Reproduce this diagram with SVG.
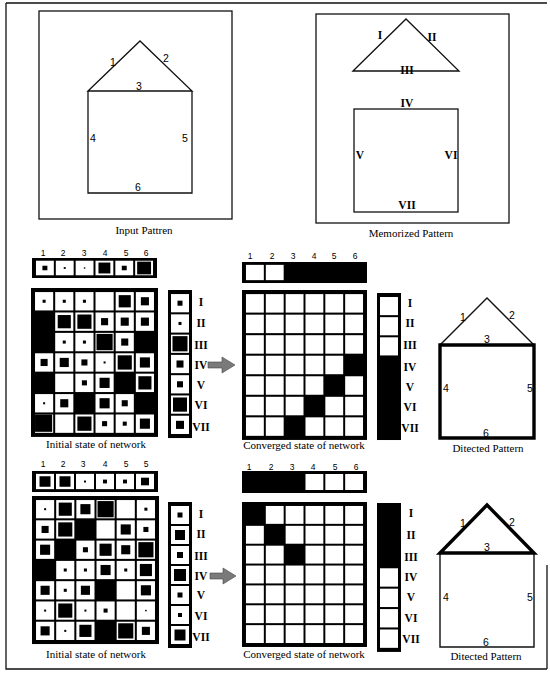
<svg xmlns="http://www.w3.org/2000/svg" xmlns:xlink="http://www.w3.org/1999/xlink" width="550" height="673" viewBox="0 0 550 673">
<style>
.ln{fill:none;stroke:#111;stroke-width:1.3}
.thick{fill:none;stroke:#000;stroke-width:3.4;stroke-linejoin:miter;stroke-linecap:square}
.thin{fill:none;stroke:#111;stroke-width:1.4}
.bk{fill:#000}
.sans{font-family:"Liberation Sans",Arial,sans-serif;font-size:10.5px;fill:#000;text-anchor:middle}
.num{font-family:"Liberation Sans",Arial,sans-serif;font-size:8.5px;fill:#000;text-anchor:middle}
.ser{font-family:"Liberation Serif","Times New Roman",serif;font-size:11.5px;fill:#000;text-anchor:middle;font-weight:bold}
.cap{font-family:"Liberation Serif","Times New Roman",serif;font-size:11px;fill:#000;text-anchor:middle}
.arrow{fill:#7a7a7a;stroke:#444;stroke-width:0.6}
</style>
<defs>
<rect id="cw" width="18" height="18" fill="#fff"/>
<rect id="sw" width="18" height="16" fill="#fff"/>
</defs>
<rect width="550" height="673" fill="#fff"/>
<g id="frame"><path class="ln" d="M6,3 H547 M6,3 V669 H547 M547,565 V669"/></g>

<g id="input-pattern">
<rect class="ln" x="39" y="11" width="193" height="208"/>
<path class="ln" d="M88,91 L140,41 L192,91 Z M88,91 V193 H192 V91"/>
<text class="sans" x="113" y="66">1</text>
<text class="sans" x="166" y="62">2</text>
<text class="sans" x="139" y="90">3</text>
<text class="sans" x="93" y="142">4</text>
<text class="sans" x="185" y="142">5</text>
<text class="sans" x="138" y="191">6</text>
<text class="cap" x="144" y="234">Input Pattren</text>
</g>

<g id="memorized-pattern">
<rect class="ln" x="316" y="14" width="193" height="209"/>
<path class="ln" d="M353,71 L406,19 L459,71 Z"/>
<rect class="ln" x="354" y="109" width="104" height="103"/>
<text class="ser" x="380" y="39">I</text>
<text class="ser" x="432" y="41">II</text>
<text class="ser" x="407" y="74">III</text>
<text class="ser" x="407" y="107">IV</text>
<text class="ser" x="360" y="159">V</text>
<text class="ser" x="451" y="159">VI</text>
<text class="ser" x="407" y="209">VII</text>
<text class="cap" x="411" y="237">Memorized Pattern</text>
</g>

<!-- ===== middle section ===== -->
<g id="mid-input-strip">
<text class="num" x="43" y="256">1</text><text class="num" x="63" y="256">2</text><text class="num" x="84" y="256">3</text><text class="num" x="105" y="256">4</text><text class="num" x="126" y="256">5</text><text class="num" x="146" y="256">6</text>
<g transform="translate(32,258) scale(0.992,0.909)">
<rect class="bk" width="126" height="22"/>
<use href="#sw" x="4" y="3"/><use href="#sw" x="24" y="3"/><use href="#sw" x="44" y="3"/><use href="#sw" x="64" y="3"/><use href="#sw" x="84" y="3"/><use href="#sw" x="104" y="3"/>
<rect class="bk" x="10.5" y="8.5" width="5" height="5"/>
<rect class="bk" x="32" y="10" width="2" height="2"/>
<rect class="bk" x="52.25" y="10.25" width="1.5" height="1.5"/>
<rect class="bk" x="67" y="5" width="12" height="12"/>
<rect class="bk" x="90.5" y="8.5" width="5" height="5"/>
<rect class="bk" x="106" y="4" width="14" height="14"/>
</g>
</g>

<g id="mid-initial-grid">
<g transform="translate(31,288) scale(1.008,1.02)">
<rect class="bk" width="126" height="146"/>
<use href="#cw" x="4" y="4"/><use href="#cw" x="24" y="4"/><use href="#cw" x="44" y="4"/><use href="#cw" x="64" y="4"/><use href="#cw" x="84" y="4"/><use href="#cw" x="104" y="4"/>
<use href="#cw" x="24" y="24"/><use href="#cw" x="44" y="24"/><use href="#cw" x="64" y="24"/><use href="#cw" x="84" y="24"/><use href="#cw" x="104" y="24"/>
<use href="#cw" x="24" y="44"/><use href="#cw" x="44" y="44"/><use href="#cw" x="64" y="44"/><use href="#cw" x="84" y="44"/>
<use href="#cw" x="4" y="64"/><use href="#cw" x="24" y="64"/><use href="#cw" x="44" y="64"/><use href="#cw" x="64" y="64"/><use href="#cw" x="84" y="64"/><use href="#cw" x="104" y="64"/>
<use href="#cw" x="24" y="84"/><use href="#cw" x="44" y="84"/><use href="#cw" x="64" y="84"/><use href="#cw" x="104" y="84"/>
<use href="#cw" x="4" y="104"/><use href="#cw" x="24" y="104"/><use href="#cw" x="64" y="104"/><use href="#cw" x="84" y="104"/>
<use href="#cw" x="4" y="124"/><use href="#cw" x="24" y="124"/><use href="#cw" x="44" y="124"/><use href="#cw" x="64" y="124"/><use href="#cw" x="84" y="124"/><use href="#cw" x="104" y="124"/>
<rect class="bk" x="11.5" y="11.5" width="3" height="3"/>
<rect class="bk" x="31.5" y="11.5" width="3" height="3"/>
<rect class="bk" x="51.5" y="11.5" width="3" height="3"/>
<rect class="bk" x="87" y="7" width="12" height="12"/>
<rect class="bk" x="109" y="9" width="8" height="8"/>
<rect class="bk" x="26.5" y="26.5" width="13" height="13"/>
<rect class="bk" x="46" y="26" width="14" height="14"/>
<rect class="bk" x="69.5" y="29.5" width="7" height="7"/>
<rect class="bk" x="89" y="29" width="8" height="8"/>
<rect class="bk" x="109" y="29" width="8" height="8"/>
<rect class="bk" x="31.5" y="51.5" width="3" height="3"/>
<rect class="bk" x="51.5" y="51.5" width="3" height="3"/>
<rect class="bk" x="65" y="45" width="16" height="16"/>
<rect class="bk" x="89.5" y="49.5" width="7" height="7"/>
<rect class="bk" x="9.5" y="69.5" width="7" height="7"/>
<rect class="bk" x="28.5" y="68.5" width="9" height="9"/>
<rect class="bk" x="50" y="70" width="6" height="6"/>
<rect class="bk" x="72" y="72" width="2" height="2"/>
<rect class="bk" x="86" y="66" width="14" height="14"/>
<rect class="bk" x="108" y="68" width="10" height="10"/>
<rect class="bk" x="50.5" y="90.5" width="5" height="5"/>
<rect class="bk" x="68" y="88" width="10" height="10"/>
<rect class="bk" x="106.5" y="86.5" width="13" height="13"/>
<rect class="bk" x="12" y="112" width="2" height="2"/>
<rect class="bk" x="29" y="109" width="8" height="8"/>
<rect class="bk" x="68" y="108" width="10" height="10"/>
<rect class="bk" x="90" y="110" width="6" height="6"/>
<rect class="bk" x="4" y="124" width="17" height="17"/>
<rect class="bk" x="46" y="126" width="14" height="14"/>
<rect class="bk" x="70.5" y="130.5" width="5" height="5"/>
<rect class="bk" x="91" y="131" width="4" height="4"/>
<rect class="bk" x="108" y="128" width="10" height="10"/>
</g>
<text class="cap" x="96" y="448">Initial state of network</text>
</g>

<g id="mid-input-vector">
<g transform="translate(168,290) scale(1,1.014)">
<rect class="bk" width="24" height="146"/>
<use href="#cw" x="3" y="4"/><use href="#cw" x="3" y="24"/><use href="#cw" x="3" y="44"/><use href="#cw" x="3" y="64"/><use href="#cw" x="3" y="84"/><use href="#cw" x="3" y="104"/><use href="#cw" x="3" y="124"/>
<rect class="bk" x="9.5" y="10.5" width="5" height="5"/>
<rect class="bk" x="10.5" y="31.5" width="3" height="3"/>
<rect class="bk" x="4.5" y="45.5" width="15" height="15"/>
<rect class="bk" x="8.5" y="69.5" width="7" height="7"/>
<rect class="bk" x="9" y="90" width="6" height="6"/>
<rect class="bk" x="5" y="106" width="14" height="14"/>
<rect class="bk" x="8" y="129" width="8" height="8"/>
</g>
<text class="ser" x="201" y="306">I</text>
<text class="ser" x="201" y="327">II</text>
<text class="ser" x="201" y="349">III</text>
<text class="ser" x="201" y="369">IV</text>
<text class="ser" x="201" y="389">V</text>
<text class="ser" x="201" y="409">VI</text>
<text class="ser" x="201" y="431">VII</text>
</g>

<g id="mid-converged-strip">
<text class="num" x="250" y="259">1</text><text class="num" x="272" y="259">2</text><text class="num" x="293" y="259">3</text><text class="num" x="314" y="259">4</text><text class="num" x="334" y="259">5</text><text class="num" x="355" y="259">6</text>
<g transform="translate(242,262) scale(0.992,0.955)">
<rect class="bk" width="126" height="22"/>
<use href="#sw" x="4" y="3"/><use href="#sw" x="24" y="3"/>
</g>
</g>

<g id="mid-converged-grid">
<g transform="translate(242,290) scale(0.992,1.027)">
<rect class="bk" width="126" height="146"/>
<use href="#cw" x="4" y="4"/><use href="#cw" x="24" y="4"/><use href="#cw" x="44" y="4"/><use href="#cw" x="64" y="4"/><use href="#cw" x="84" y="4"/><use href="#cw" x="104" y="4"/>
<use href="#cw" x="4" y="24"/><use href="#cw" x="24" y="24"/><use href="#cw" x="44" y="24"/><use href="#cw" x="64" y="24"/><use href="#cw" x="84" y="24"/><use href="#cw" x="104" y="24"/>
<use href="#cw" x="4" y="44"/><use href="#cw" x="24" y="44"/><use href="#cw" x="44" y="44"/><use href="#cw" x="64" y="44"/><use href="#cw" x="84" y="44"/><use href="#cw" x="104" y="44"/>
<use href="#cw" x="4" y="64"/><use href="#cw" x="24" y="64"/><use href="#cw" x="44" y="64"/><use href="#cw" x="64" y="64"/><use href="#cw" x="84" y="64"/>
<use href="#cw" x="4" y="84"/><use href="#cw" x="24" y="84"/><use href="#cw" x="44" y="84"/><use href="#cw" x="64" y="84"/><use href="#cw" x="104" y="84"/>
<use href="#cw" x="4" y="104"/><use href="#cw" x="24" y="104"/><use href="#cw" x="44" y="104"/><use href="#cw" x="84" y="104"/><use href="#cw" x="104" y="104"/>
<use href="#cw" x="4" y="124"/><use href="#cw" x="24" y="124"/><use href="#cw" x="64" y="124"/><use href="#cw" x="84" y="124"/><use href="#cw" x="104" y="124"/>
</g>
<text class="cap" x="304" y="449">Converged state of network</text>
</g>

<g id="mid-output-vector">
<g transform="translate(377,293) scale(1,1.007)">
<rect class="bk" width="24" height="146"/>
<use href="#cw" x="3" y="4"/><use href="#cw" x="3" y="24"/><use href="#cw" x="3" y="44"/>
</g>
<text class="ser" x="410" y="307">I</text>
<text class="ser" x="410" y="327">II</text>
<text class="ser" x="410" y="349">III</text>
<text class="ser" x="410" y="371">IV</text>
<text class="ser" x="410" y="391">V</text>
<text class="ser" x="410" y="411">VI</text>
<text class="ser" x="410" y="432">VII</text>
</g>

<g id="mid-detected-pattern">
<path class="thin" d="M440,345 L487,298 L534,345"/>
<path class="thick" d="M440,345 H534 V438 H440 Z"/>
<text class="sans" x="463" y="321">1</text>
<text class="sans" x="512" y="319">2</text>
<text class="sans" x="487" y="343">3</text>
<text class="sans" x="446" y="392">4</text>
<text class="sans" x="530" y="392">5</text>
<text class="sans" x="486" y="437">6</text>
<text class="cap" x="488" y="452">Ditected Pattern</text>
</g>

<!-- ===== bottom section ===== -->
<g id="bot-input-strip">
<text class="num" x="43" y="467">1</text><text class="num" x="63" y="467">2</text><text class="num" x="83" y="467">3</text><text class="num" x="105" y="467">4</text><text class="num" x="126" y="467">5</text><text class="num" x="146" y="467">5</text>
<g transform="translate(32,471) scale(1,0.955)">
<rect class="bk" width="126" height="22"/>
<use href="#sw" x="4" y="3"/><use href="#sw" x="24" y="3"/><use href="#sw" x="44" y="3"/><use href="#sw" x="64" y="3"/><use href="#sw" x="84" y="3"/><use href="#sw" x="104" y="3"/>
<rect class="bk" x="7.5" y="5.5" width="11" height="11"/>
<rect class="bk" x="27.5" y="5.5" width="11" height="11"/>
<rect class="bk" x="52" y="10" width="2" height="2"/>
<rect class="bk" x="71" y="9" width="4" height="4"/>
<rect class="bk" x="91" y="9" width="4" height="4"/>
<rect class="bk" x="109" y="7" width="8" height="8"/>
</g>
</g>

<g id="bot-initial-grid">
<g transform="translate(32,496) scale(1.008,1.014)">
<rect class="bk" width="126" height="146"/>
<use href="#cw" x="4" y="4"/><use href="#cw" x="24" y="4"/><use href="#cw" x="44" y="4"/><use href="#cw" x="64" y="4"/><use href="#cw" x="84" y="4"/><use href="#cw" x="104" y="4"/>
<use href="#cw" x="4" y="24"/><use href="#cw" x="24" y="24"/><use href="#cw" x="64" y="24"/><use href="#cw" x="84" y="24"/><use href="#cw" x="104" y="24"/>
<use href="#cw" x="4" y="44"/><use href="#cw" x="44" y="44"/><use href="#cw" x="64" y="44"/><use href="#cw" x="84" y="44"/><use href="#cw" x="104" y="44"/>
<use href="#cw" x="24" y="64"/><use href="#cw" x="44" y="64"/><use href="#cw" x="64" y="64"/><use href="#cw" x="84" y="64"/><use href="#cw" x="104" y="64"/>
<use href="#cw" x="4" y="84"/><use href="#cw" x="24" y="84"/><use href="#cw" x="44" y="84"/><use href="#cw" x="84" y="84"/><use href="#cw" x="104" y="84"/>
<use href="#cw" x="4" y="104"/><use href="#cw" x="24" y="104"/><use href="#cw" x="44" y="104"/><use href="#cw" x="64" y="104"/><use href="#cw" x="84" y="104"/><use href="#cw" x="104" y="104"/>
<use href="#cw" x="4" y="124"/><use href="#cw" x="24" y="124"/><use href="#cw" x="44" y="124"/><use href="#cw" x="84" y="124"/><use href="#cw" x="104" y="124"/>
<rect class="bk" x="12" y="12" width="2" height="2"/>
<rect class="bk" x="26.5" y="6.5" width="13" height="13"/>
<rect class="bk" x="48" y="8" width="10" height="10"/>
<rect class="bk" x="65" y="5" width="16" height="16"/>
<rect class="bk" x="111.5" y="11.5" width="3" height="3"/>
<rect class="bk" x="9.5" y="29.5" width="7" height="7"/>
<rect class="bk" x="26" y="26" width="14" height="14"/>
<rect class="bk" x="88" y="28" width="10" height="10"/>
<rect class="bk" x="110.5" y="30.5" width="5" height="5"/>
<rect class="bk" x="8" y="48" width="10" height="10"/>
<rect class="bk" x="50.5" y="50.5" width="5" height="5"/>
<rect class="bk" x="67" y="47" width="12" height="12"/>
<rect class="bk" x="88.5" y="48.5" width="9" height="9"/>
<rect class="bk" x="105.5" y="45.5" width="15" height="15"/>
<rect class="bk" x="31.5" y="71.5" width="3" height="3"/>
<rect class="bk" x="51.5" y="71.5" width="3" height="3"/>
<rect class="bk" x="68" y="68" width="10" height="10"/>
<rect class="bk" x="91.5" y="71.5" width="3" height="3"/>
<rect class="bk" x="107" y="67" width="12" height="12"/>
<rect class="bk" x="8.5" y="88.5" width="9" height="9"/>
<rect class="bk" x="31.5" y="91.5" width="3" height="3"/>
<rect class="bk" x="48.5" y="88.5" width="9" height="9"/>
<rect class="bk" x="108" y="88" width="10" height="10"/>
<rect class="bk" x="12" y="112" width="2" height="2"/>
<rect class="bk" x="26" y="106" width="14" height="14"/>
<rect class="bk" x="52" y="112" width="2" height="2"/>
<rect class="bk" x="71" y="111" width="4" height="4"/>
<rect class="bk" x="112.25" y="112.25" width="1.5" height="1.5"/>
<rect class="bk" x="8.5" y="128.5" width="9" height="9"/>
<rect class="bk" x="32" y="132" width="2" height="2"/>
<rect class="bk" x="47" y="127" width="12" height="12"/>
<rect class="bk" x="85.5" y="125.5" width="15" height="15"/>
<rect class="bk" x="109" y="129" width="8" height="8"/>
</g>
<text class="cap" x="96" y="658">Initial state of network</text>
</g>

<g id="bot-input-vector">
<g transform="translate(168,502)">
<rect class="bk" width="24" height="146"/>
<use href="#cw" x="3" y="4"/><use href="#cw" x="3" y="24"/><use href="#cw" x="3" y="44"/><use href="#cw" x="3" y="64"/><use href="#cw" x="3" y="84"/><use href="#cw" x="3" y="104"/><use href="#cw" x="3" y="124"/>
<rect class="bk" x="9.5" y="10.5" width="5" height="5"/>
<rect class="bk" x="7" y="28" width="10" height="10"/>
<rect class="bk" x="9" y="50" width="6" height="6"/>
<rect class="bk" x="6" y="67" width="12" height="12"/>
<rect class="bk" x="9.5" y="90.5" width="5" height="5"/>
<rect class="bk" x="10" y="111" width="4" height="4"/>
<rect class="bk" x="6.5" y="127.5" width="11" height="11"/>
</g>
<text class="ser" x="201" y="518">I</text>
<text class="ser" x="201" y="538">II</text>
<text class="ser" x="201" y="560">III</text>
<text class="ser" x="201" y="580">IV</text>
<text class="ser" x="201" y="599">V</text>
<text class="ser" x="201" y="620">VI</text>
<text class="ser" x="201" y="641">VII</text>
</g>

<g id="bot-converged-strip">
<text class="num" x="249" y="470">1</text><text class="num" x="271" y="470">2</text><text class="num" x="292" y="470">3</text><text class="num" x="313" y="470">4</text><text class="num" x="335" y="470">5</text><text class="num" x="356" y="470">6</text>
<g transform="translate(242,471) scale(0.992,1)">
<rect class="bk" width="126" height="22"/>
<use href="#sw" x="64" y="3"/><use href="#sw" x="84" y="3"/><use href="#sw" x="104" y="3"/>
</g>
</g>

<g id="bot-converged-grid">
<g transform="translate(242,502) scale(0.992,0.993)">
<rect class="bk" width="126" height="146"/>
<use href="#cw" x="24" y="4"/><use href="#cw" x="44" y="4"/><use href="#cw" x="64" y="4"/><use href="#cw" x="84" y="4"/><use href="#cw" x="104" y="4"/>
<use href="#cw" x="4" y="24"/><use href="#cw" x="44" y="24"/><use href="#cw" x="64" y="24"/><use href="#cw" x="84" y="24"/><use href="#cw" x="104" y="24"/>
<use href="#cw" x="4" y="44"/><use href="#cw" x="24" y="44"/><use href="#cw" x="64" y="44"/><use href="#cw" x="84" y="44"/><use href="#cw" x="104" y="44"/>
<use href="#cw" x="4" y="64"/><use href="#cw" x="24" y="64"/><use href="#cw" x="44" y="64"/><use href="#cw" x="64" y="64"/><use href="#cw" x="84" y="64"/><use href="#cw" x="104" y="64"/>
<use href="#cw" x="4" y="84"/><use href="#cw" x="24" y="84"/><use href="#cw" x="44" y="84"/><use href="#cw" x="64" y="84"/><use href="#cw" x="84" y="84"/><use href="#cw" x="104" y="84"/>
<use href="#cw" x="4" y="104"/><use href="#cw" x="24" y="104"/><use href="#cw" x="44" y="104"/><use href="#cw" x="64" y="104"/><use href="#cw" x="84" y="104"/><use href="#cw" x="104" y="104"/>
<use href="#cw" x="4" y="124"/><use href="#cw" x="24" y="124"/><use href="#cw" x="44" y="124"/><use href="#cw" x="64" y="124"/><use href="#cw" x="84" y="124"/><use href="#cw" x="104" y="124"/>
</g>
<text class="cap" x="304" y="658">Converged state of network</text>
</g>

<g id="bot-output-vector">
<g transform="translate(377,503) scale(1,1.02)">
<rect class="bk" width="24" height="146"/>
<use href="#cw" x="3" y="64"/><use href="#cw" x="3" y="84"/><use href="#cw" x="3" y="104"/><use href="#cw" x="3" y="124"/>
</g>
<text class="ser" x="411" y="517">I</text>
<text class="ser" x="411" y="539">II</text>
<text class="ser" x="411" y="561">III</text>
<text class="ser" x="411" y="581">IV</text>
<text class="ser" x="411" y="601">V</text>
<text class="ser" x="411" y="622">VI</text>
<text class="ser" x="411" y="643">VII</text>
</g>

<g id="bot-detected-pattern">
<path class="thin" d="M440,553 V647 H534 V553"/>
<path class="thick" d="M440,553 L487,505 L534,553 Z"/>
<text class="sans" x="463" y="527">1</text>
<text class="sans" x="512" y="526">2</text>
<text class="sans" x="487" y="551">3</text>
<text class="sans" x="446" y="601">4</text>
<text class="sans" x="530" y="601">5</text>
<text class="sans" x="486" y="646">6</text>
<text class="cap" x="486" y="660">Ditected Pattern</text>
</g>

<g id="connectors">
<path class="arrow" d="M208,362 L222,362 L222,357 L235,365 L222,373 L222,368 L208,368 Z"/>
<path class="arrow" d="M210,573 L223,573 L223,568 L236,576 L223,584 L223,579 L210,579 Z"/>
</g>
</svg>
